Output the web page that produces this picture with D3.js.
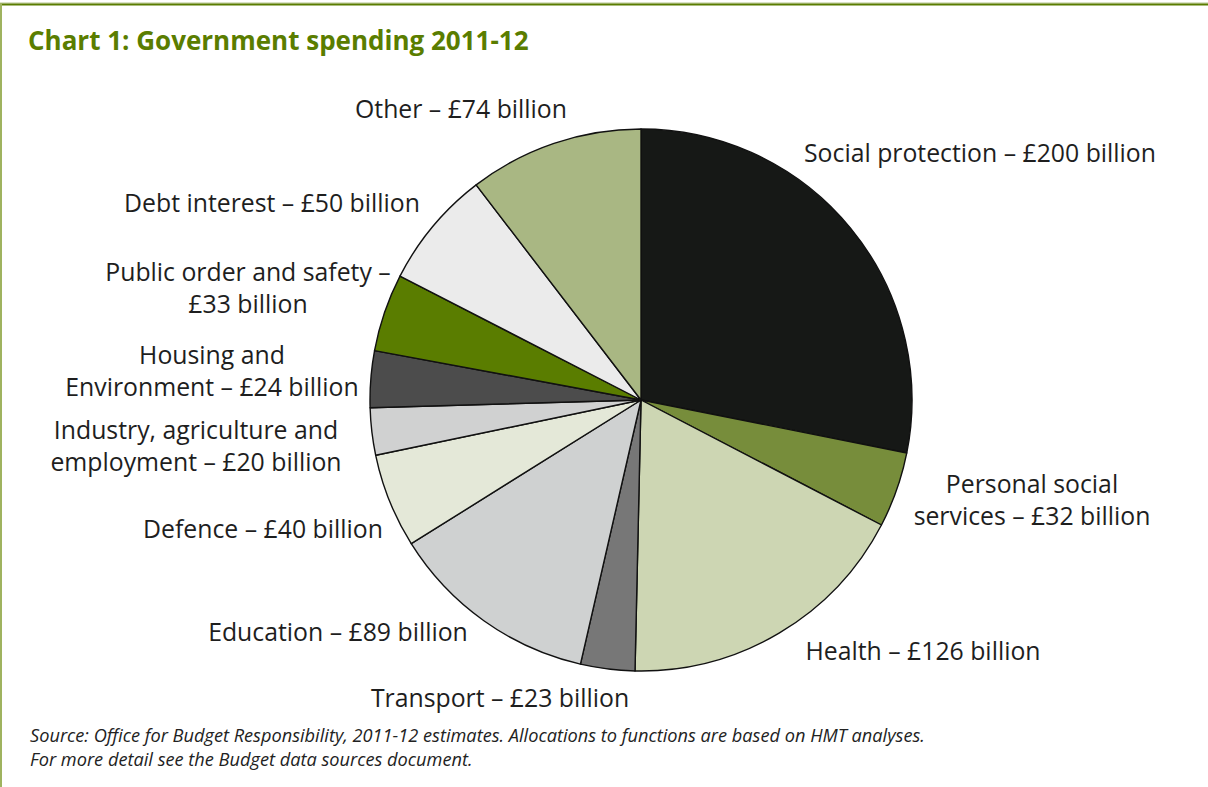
<!DOCTYPE html>
<html>
<head>
<meta charset="utf-8">
<script src="https://cdn.jsdelivr.net/npm/d3@7"></script>
<style>
  html, body { margin: 0; padding: 0; background: #fff; }
  svg { display: block; }
</style>
</head>
<body>
<svg id="chart" width="1208" height="787"></svg>
<script>
// ---- Data ----
const categories = ["Social protection", "Personal social services", "Health", "Transport", "Education",
  "Defence", "Industry, agriculture and employment", "Housing and Environment",
  "Public order and safety", "Debt interest", "Other"];
const values = [200, 32, 126, 23, 89, 40, 20, 24, 33, 50, 74];
const labelLines = [
  ["Social protection – £200 billion"],
  ["Personal social", "services – £32 billion"],
  ["Health – £126 billion"],
  ["Transport – £23 billion"],
  ["Education – £89 billion"],
  ["Defence – £40 billion"],
  ["Industry, agriculture and", "employment – £20 billion"],
  ["Housing and", "Environment – £24 billion"],
  ["Public order and safety –", "£33 billion"],
  ["Debt interest – £50 billion"],
  ["Other – £74 billion"]
];
const titleText = "Chart 1: Government spending 2011-12";
const sourceLines = [
  "Source: Office for Budget Responsibility, 2011-12 estimates. Allocations to functions are based on HMT analyses.",
  "For more detail see the Budget data sources document."
];

// ---- Styles / layout (kept apart from data) ----
const colors = ["#161816", "#778d3b", "#cdd6b3", "#777777", "#cfd1d1", "#e4e8d8",
  "#d0d1d1", "#4c4c4c", "#5a7d00", "#ebebeb", "#a9b783"];
// label anchor points (centre x, first baseline y) per slice
const labelPos = [
  [980, 162], [1032, 493], [923, 660], [500, 707], [338, 641], [263, 538],
  [196, 439], [212, 364], [248, 281], [272, 212], [461, 118]
];
const cx = 641, cy = 400, R = 271;

const svg = d3.select("#chart");

// frame
svg.append("rect").attr("x", 0).attr("y", 0).attr("width", 1208).attr("height", 787).attr("fill", "#fff");
svg.append("line").attr("x1", 0).attr("x2", 1208).attr("y1", 3).attr("y2", 3)
  .attr("stroke", "#b5c48e").attr("stroke-width", 1);
svg.append("line").attr("x1", 0).attr("x2", 1208).attr("y1", 4.5).attr("y2", 4.5)
  .attr("stroke", "#5a7d00").attr("stroke-width", 2);
svg.append("line").attr("x1", 1).attr("x2", 1).attr("y1", 3).attr("y2", 787)
  .attr("stroke", "#9fb35f").attr("stroke-width", 2);

// title
svg.append("text").attr("x", 28).attr("y", 50)
  .attr("font-family", "'Open Sans', sans-serif").attr("font-weight", "bold")
  .attr("font-size", 26).attr("fill", "#5a7d00").text(titleText);

// pie
const pie = d3.pie().sort(null).value(d => d)(values);
const arc = d3.arc().innerRadius(0).outerRadius(R);
const g = svg.append("g").attr("transform", `translate(${cx},${cy})`);
g.selectAll("path").data(pie).join("path")
  .attr("d", arc)
  .attr("fill", (d, i) => colors[i])
  .attr("stroke", "#111")
  .attr("stroke-width", 1.4)
  .attr("stroke-linejoin", "round");

// labels
const lbl = svg.append("g")
  .attr("font-family", "'Open Sans', sans-serif")
  .attr("font-size", 24.8)
  .attr("fill", "#1e1e1e")
  .attr("text-anchor", "middle");
labelLines.forEach((lines, i) => {
  const t = lbl.append("text").attr("x", labelPos[i][0]).attr("y", labelPos[i][1]);
  lines.forEach((ln, j) => {
    t.append("tspan").attr("x", labelPos[i][0]).attr("dy", j === 0 ? 0 : 32).text(ln);
  });
});

// source
const src = svg.append("g")
  .attr("font-family", "'Open Sans', sans-serif")
  .attr("font-style", "italic").attr("font-size", 18.2).attr("fill", "#222");
sourceLines.forEach((s, i) => {
  src.append("text").attr("x", 30).attr("y", 742 + i * 24).text(s);
});
</script>
</body>
</html>
